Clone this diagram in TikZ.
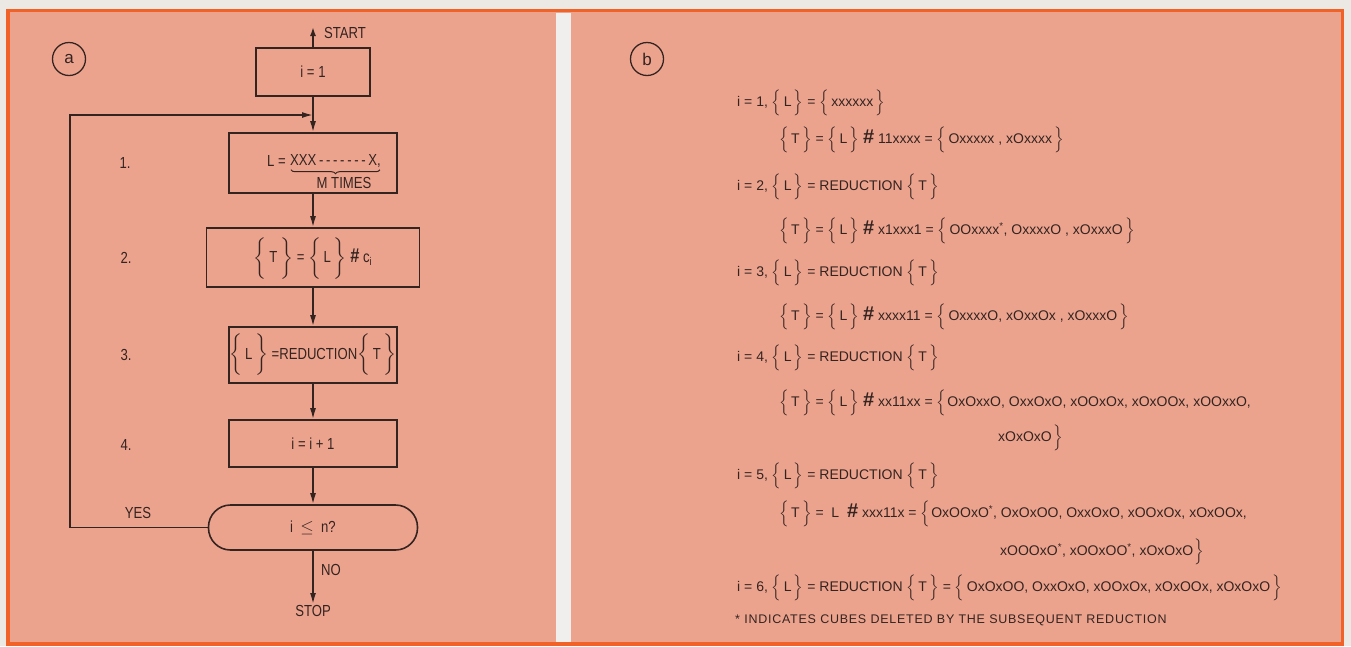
\documentclass[tikz,border=0pt]{standalone}
\usepackage{amsmath}
\usepackage{fontspec}
\setmainfont{Liberation Sans}
\newfontfamily\lettfont[FakeStretch=0.82]{Liberation Sans}
\newfontfamily\notefont[LetterSpace=6]{Liberation Sans}
\usetikzlibrary{arrows.meta,positioning,calc,decorations.pathreplacing}

\definecolor{panelfill}{RGB}{236,163,142}
\definecolor{rimorange}{RGB}{240,98,40}
\definecolor{paper}{RGB}{236,233,229}
\definecolor{gapwhite}{RGB}{241,239,237}
\definecolor{ink}{RGB}{52,36,32}

% lettered set braces; the optional factor makes them taller
\newcommand{\bset}[2][1]{$\left\{\rule[-#1\dimexpr 8pt\relax]{0pt}{#1\dimexpr 25pt\relax}\text{\,#2\,}\right\}$}
\newcommand{\bopen}{$\left\{\rule[-8pt]{0pt}{25pt}\right.$}
\newcommand{\bshut}{$\left.\rule[-8pt]{0pt}{25pt}\right\}$}
\newcommand{\sharpop}{{\fontsize{20}{20}\selectfont\bfseries\#}}
\newcommand{\del}{\textsuperscript{*}}

\begin{document}
\begin{tikzpicture}[x=1pt,y=-1pt,
    box/.style={draw=ink,line width=1.6pt,minimum width=168pt,inner sep=0pt,
      font=\lettfont\fontsize{16}{19}\selectfont,text=ink},
    flow/.style={draw=ink,line width=1.6pt,-{Latex[length=11pt,width=6pt]}},
    lbl/.style={font=\lettfont\fontsize{16}{19}\selectfont,text=ink,inner sep=1pt},
    eqn/.style={anchor=west,font=\fontsize{14}{17}\selectfont,text=ink,inner sep=0pt},
    tag/.style={draw=ink,line width=1.3pt,circle,minimum size=33pt,inner sep=0pt,
      font=\fontsize{17}{20}\selectfont,text=ink}]
  \useasboundingbox (0,0) rectangle (1351,646);
  % paper, orange rim and the white gap between the panels
  \fill[paper] (0,0) rectangle (1351,646);
  \filldraw[fill=panelfill,draw=rimorange,line width=3.5pt] (8,10.5) rectangle (1342.5,644);
  \fill[gapwhite] (556,12.5) rectangle (571,642);

  % (a) the flow chart
  \node[tag] (taga) at (69,59) {a};
  \node[box,minimum width=114pt,minimum height=48pt] (init) at (313,72) {i = 1};
  \node[box,minimum height=60pt] (step1) at (313,163) {};
  \node[lbl,anchor=east] (lhs) at (287,161) {L =};
  \node[lbl,anchor=west] (xrow) at (289,161) {XXX\,-\,-\,-\,-\,-\,-\,-\,X,};
  \node[lbl] (mtimes) at (344,183) {M TIMES};
  \draw[ink,line width=1pt,decorate,decoration={brace,mirror,amplitude=4pt}]
    ([xshift=2pt,yshift=-1pt]xrow.south west) -- ([xshift=-2pt,yshift=-1pt]xrow.south east);
  \node[box,minimum width=213pt,minimum height=59pt] (step2) at (313,257.5)
    {\bset[1.6]{T} = \bset[1.6]{L} \sharpop\ c\textsubscript{i}};
  \node[box,minimum height=56pt] (step3) at (313,355)
    {\bset[1.4]{L} =REDUCTION\bset[1.4]{T}};
  \node[box,minimum height=47pt] (step4) at (313,443.5) {i = i + 1};
  \node[box,rounded corners=22pt,minimum width=209pt,minimum height=45pt] (test) at (313,527.5)
    {i \ $\leq$ \ n?};

  \node[lbl] (n1) at (125,163) {1.};
  \node[lbl] (n2) at (126,258) {2.};
  \node[lbl] (n3) at (126,355) {3.};
  \node[lbl] (n4) at (126,445) {4.};
  \node[lbl] (start) at (345,33) {START};
  \node[lbl] (yes) at (138,513) {YES};
  \node[lbl] (no) at (331,570) {NO};
  \node[lbl,anchor=north] (stop) at (313,604) {STOP};

  \coordinate (startpt) at (313,27);
  \coordinate (merge) at (313,115);
  \coordinate (loopturn) at (70,115);
  \draw[draw=ink,line width=1.6pt,{Latex[length=9pt,width=6pt]}-] (startpt) -- (init);
  \draw[flow] (init) -- (step1);
  \draw[flow] (step1) -- (step2);
  \draw[flow] (step2) -- (step3);
  \draw[flow] (step3) -- (step4);
  \draw[flow] (step4) -- (test);
  \draw[flow] (test.west) -| (loopturn) -- (merge);
  \draw[flow] (test) -- (stop);

  % (b) the worked example
  \node[tag] (tagb) at (647,59) {b};
  \node[eqn] (r1) at (737,103) {i = 1,\ \bset{L} = \bset{xxxxxx}};
  \node[eqn] (r2) at (779,140) {\bset{T} = \bset{L} \sharpop\ 11xxxx = \bset{Oxxxxx , xOxxxx}};
  \node[eqn] (r3) at (737,187) {i = 2,\ \bset{L} = REDUCTION \bset{T}};
  \node[eqn] (r4) at (779,231) {\bset{T} = \bset{L} \sharpop\ x1xxx1 = \bset{OOxxxx\del, OxxxxO , xOxxxO}};
  \node[eqn] (r5) at (737,273) {i = 3,\ \bset{L} = REDUCTION \bset{T}};
  \node[eqn] (r6) at (779,317) {\bset{T} = \bset{L} \sharpop\ xxxx11 = \bset{OxxxxO, xOxxOx , xOxxxO}};
  \node[eqn] (r7) at (737,358) {i = 4,\ \bset{L} = REDUCTION \bset{T}};
  \node[eqn] (r8) at (779,403) {\bset{T} = \bset{L} \sharpop\ xx11xx = \bopen OxOxxO, OxxOxO, xOOxOx, xOxOOx, xOOxxO,};
  \node[eqn] (r8b) at (998,438) {xOxOxO\bshut};
  \node[eqn] (r9) at (737,476) {i = 5,\ \bset{L} = REDUCTION \bset{T}};
  \node[eqn] (r10) at (779,514) {\bset{T} = \ L \ \sharpop\ xxx11x = \bopen OxOOxO\del, OxOxOO, OxxOxO, xOOxOx, xOxOOx,};
  \node[eqn] (r10b) at (1000,552) {xOOOxO\del, xOOxOO\del, xOxOxO\bshut};
  \node[eqn] (r11) at (737,588) {i = 6,\ \bset{L} = REDUCTION \bset{T} = \bset{OxOxOO, OxxOxO, xOOxOx, xOxOOx, xOxOxO}};
  \node[eqn,font=\notefont\fontsize{12.5}{15}\selectfont] (note) at (735,620)
    {* INDICATES CUBES DELETED BY THE SUBSEQUENT REDUCTION};
\end{tikzpicture}
\end{document}
